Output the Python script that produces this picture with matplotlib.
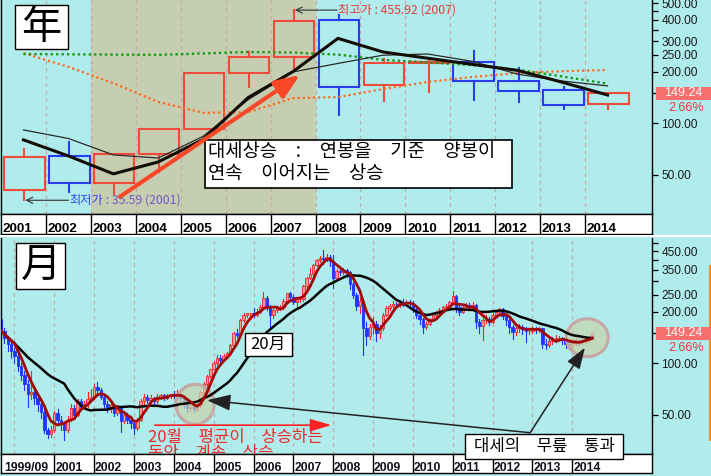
import numpy as np
import pandas as pd
import matplotlib
matplotlib.use("Agg")
import matplotlib.pyplot as plt
from matplotlib.patches import Rectangle, Ellipse, FancyArrowPatch
from matplotlib.lines import Line2D
from matplotlib.ticker import NullLocator, FixedLocator, FixedFormatter

plt.rcParams['font.family'] = ['Liberation Sans', 'DejaVu Sans']
KR = ['Noto Sans CJK KR', 'DejaVu Sans']
JP = ['Noto Sans CJK JP', 'DejaVu Sans']

# ---------------- data: yearly candles ----------------
years = ['2001', '2002', '2003', '2004', '2005', '2006', '2007',
         '2008', '2009', '2010', '2011', '2012', '2013', '2014']
y_open = [40.9, 64.8, 44.7, 66.3, 92.3, 197, 244, 399, 167, 223, 228, 175, 156, 130]
y_high = [70.6, 78.2, 66.5, 92.3, 197, 261, 455.92, 427, 236, 231, 265, 211, 162, 149.24]
y_low = [35.59, 40.0, 38.6, 52.3, 92.3, 163, 209, 111, 135, 151, 137, 133, 121, 121]
y_close = [63.9, 44.7, 66.5, 92.3, 197, 244, 394, 162, 224, 228, 175, 154, 128, 149.24]
# yearly moving averages
ma_thick = [80, 64.5, 50.7, 59.5, 80.5, 141, 200, 312, 260, 239, 220, 203, 173, 146]
ma_thin = [91.4, 81.5, 65.4, 62.7, 83.9, 137, 199, 223, 249, 253, 229, 193, 176, 165]
ma_green = [253, 252, 251, 250, 255, 260, 258, 251, 234, 226, 218, 205, 187, 170]
ma_orange = [256, 213, 171, 133, 115, 116, 140, 142, 158, 174, 186, 196, 201, 204]

# ---------------- data: monthly candles (1999/09 .. 2014/07) ----------------
m_first_open = 180.0
m_close = [
    155, 140, 130, 118,
    110, 96, 86, 76, 66, 68, 63, 58, 52, 41, 38.5, 40.9,
    51, 47, 44, 41, 47, 55, 50, 60, 56, 58, 62, 63.9,
    73, 70, 64, 58, 54, 57, 51, 55, 46, 50, 47, 44.7,
    42, 47, 60, 64, 61, 63, 60, 64, 65, 63, 65, 66.5,
    65, 66, 63, 59, 55, 56, 54, 57, 68, 76, 84, 92.3,
    100, 108, 105, 110, 114, 128, 150, 146, 178, 192, 196, 197,
    192, 200, 212, 240, 215, 190, 205, 210, 213, 232, 255, 244,
    228, 236, 236, 280, 315, 330, 375, 400, 412, 405, 415, 394,
    315, 345, 338, 350, 340, 290, 250, 216, 230, 160, 145, 162,
    170, 150, 160, 192, 210, 215, 222, 220, 225, 223, 228, 224,
    208, 190, 180, 162, 170, 180, 192, 198, 205, 212, 216, 228,
    245, 212, 200, 212, 218, 214, 218, 175, 165, 178, 182, 175,
    190, 200, 208, 188, 178, 162, 152, 160, 162, 158, 154, 155,
    160, 158, 160, 130, 128, 135, 138, 140, 140, 137, 130, 128,
    132, 137, 134, 137, 138, 141, 149.24]
m_high = [
    195, 160, 145, 134,
    122, 113, 100, 90, 80, 90, 72, 66, 60, 54, 42, 43,
    53, 54, 49, 45, 49, 58, 57, 62, 62, 60, 68, 70.6,
    76, 78.2, 72, 66, 60, 59, 58, 57, 56, 52, 51, 49,
    46, 48, 62, 66, 65, 65, 64, 66, 66.5, 66, 66.5, 66.5,
    69, 70, 67, 64, 60, 58, 57, 58, 69, 78, 86, 92.3,
    103, 112, 112, 113, 117, 130, 152, 158, 182, 197, 197, 197,
    210, 206, 218, 261, 245, 218, 208, 214, 218, 236, 258, 259,
    250, 240, 242, 284, 320, 360, 380, 406, 420, 455.92, 430, 425,
    427, 355, 352, 360, 355, 345, 296, 258, 240, 236, 175, 170,
    185, 176, 166, 197, 216, 222, 230, 228, 232, 236, 234, 233,
    231, 214, 196, 184, 175, 184, 196, 202, 210, 216, 222, 231,
    265, 250, 218, 218, 225, 224, 226, 222, 182, 184, 190, 186,
    195, 205, 211, 210, 192, 180, 166, 165, 170, 166, 162, 160,
    162, 162, 162, 161, 138, 140, 142, 146, 144, 143, 139, 134,
    136, 140, 139, 142, 143, 145, 151]
m_low = [
    150, 132, 118, 108,
    100, 90, 80, 70, 56, 62, 58, 53, 48, 39, 36.5, 37,
    40, 45, 41, 35.59, 40, 46, 48, 49, 54, 54, 56, 60,
    62, 66, 62, 55, 52, 52, 49, 50, 40.0, 45, 45, 42,
    38.6, 41, 46, 58, 59, 59, 58, 59, 62, 61, 62, 63,
    63, 63, 60, 55, 52.3, 53, 52.3, 53, 56, 66, 74, 82,
    92.3, 97, 101, 103, 108, 112, 126, 142, 144, 175, 186, 188,
    186, 188, 196, 208, 205, 163, 184, 198, 204, 208, 228, 238,
    222, 209, 226, 232, 272, 310, 322, 368, 390, 380, 395, 370,
    275, 305, 325, 330, 320, 270, 240, 205, 196, 111, 128, 138,
    148, 135, 140, 157, 188, 205, 210, 212, 214, 215, 218, 216,
    200, 184, 170, 151, 158, 166, 176, 188, 194, 200, 206, 212,
    224, 200, 192, 196, 206, 208, 210, 160, 150, 137, 172, 168,
    172, 186, 195, 180, 168, 150, 138, 146, 152, 148, 133, 148,
    150, 150, 152, 122, 121, 124, 130, 133, 134, 130, 123, 121,
    121, 127, 128, 130, 131, 133, 138]
m_start_year, m_start_month = 1999, 9
m_labels = ['1999/09', '2001', '2002', '2003', '2004', '2005', '2006', '2007',
            '2008', '2009', '2010', '2011', '2012', '2013', '2014']
m_grid_years = list(range(2000, 2015))
ma_short, ma_long = 5, 20

last_price = 149.24
last_change = '2.66%'

top_ticks = [50, 100, 150, 200, 250, 300, 350, 400, 450, 500]
top_ticklabels = ['50.00', '100.00', '', '200.00', '250.00', '300.00', '', '400.00', '', '500.00']
bot_ticks = [50, 100, 150, 200, 250, 300, 350, 400, 450, 500]
bot_ticklabels = ['50.00', '100.00', '', '200.00', '250.00', '', '350.00', '', '450.00', '']

# ---------------- styling ----------------
W, H = 711, 476
BG = '#B0ECEC'
SHADE = '#C6CEB2'
RED = '#F04A3A'
BLUE = '#2A3CF0'
GRID = '#C4AAAA'

fig = plt.figure(figsize=(W / 100, H / 100), dpi=100)
fig.patch.set_facecolor(BG)


def rect_px(x0, y0, x1, y1):
    return [x0 / W, 1 - y1 / H, (x1 - x0) / W, (y1 - y0) / H]


def fpt(x, y):
    return (x / W, 1 - y / H)


ax1 = fig.add_axes(rect_px(1, 0, 652.5, 214))
bd1 = fig.add_axes(rect_px(1, 214, 652.5, 234))
ax2 = fig.add_axes(rect_px(1, 237.5, 652.5, 454.3))
bd2 = fig.add_axes(rect_px(1, 454.3, 652.5, 473.3))

n_years = len(years)
ax1.set_xlim(0.0, 14.5)
bd1.set_xlim(0.0, 14.5)
n_m = len(m_close)
ax2.set_xlim(-0.05, 196.15)
bd2.set_xlim(-0.05, 196.15)

for ax, ylim, ticks, labels in [(ax1, (29.6, 522), top_ticks, top_ticklabels),
                                (ax2, (29.5, 540), bot_ticks, bot_ticklabels)]:
    ax.set_facecolor(BG)
    ax.set_yscale('log')
    ax.set_ylim(*ylim)
    ax.yaxis.tick_right()
    ax.yaxis.set_major_locator(FixedLocator(ticks))
    ax.yaxis.set_major_formatter(FixedFormatter(labels))
    ax.yaxis.set_minor_locator(NullLocator())
    ax.tick_params(axis='y', direction='out', length=4, width=0.9, color='black',
                   labelsize=8.6, labelcolor='#1A1A1A', pad=2.5)
    ax.set_xticks([])
    for s in ['left', 'right', 'bottom']:
        ax.spines[s].set_color('black')
        ax.spines[s].set_linewidth(1.0)
    ax.spines['top'].set_visible(False)

for bd in (bd1, bd2):
    bd.set_facecolor('white')
    bd.set_ylim(0, 1)
    bd.set_xticks([])
    bd.set_yticks([])
    for s in bd.spines.values():
        s.set_color('black')
        s.set_linewidth(1.0)

# ---------------- top panel: yearly ----------------
ax1.axvspan(2, 7, color=SHADE, zorder=0.5, lw=0)
for i in range(1, n_years):
    ax1.axvline(i, color=GRID, lw=0.9, ls=(0, (3, 3)), zorder=0.8)

xc = np.arange(n_years) + 0.52
for x, o, h, l, c in zip(xc, y_open, y_high, y_low, y_close):
    col = RED if c >= o else BLUE
    lo, hi = min(o, c), max(o, c)
    ax1.add_patch(Rectangle((x - 0.45, lo), 0.9, max(hi - lo, 0.3), fill=False,
                            ec=col, lw=1.5, zorder=3))
    if h > hi:
        ax1.plot([x, x], [hi, h], color=col, lw=1.5, zorder=3)
    if l < lo:
        ax1.plot([x, x], [l, lo], color=col, lw=1.5, zorder=3)

xm = np.arange(n_years) + 0.5
ax1.plot(xm, ma_orange, color='#FF6A1E', lw=1.6, ls=(0, (1, 1.3)), zorder=4)
ax1.plot(xm, ma_green, color='#169A16', lw=1.7, ls=(0, (1, 1.3)), zorder=4)
ax1.plot(xm, ma_thin, color='#2A2A2A', lw=0.9, zorder=4.2)
ax1.plot(xm, ma_thick, color='#140E06', lw=2.2, zorder=4.3)

for i, yl in enumerate(years):
    bd1.text(i + 0.04, 0.1, yl, fontsize=9.7, fontweight='bold', va='baseline',
             ha='left', color='black')
for i in range(1, n_years):
    bd1.axvline(i, color='black', lw=1)

# high / low notes
i_hi = int(np.argmax(y_high))
i_lo = int(np.argmin(y_low))
ax1.annotate('', xy=(xc[i_hi] + 0.02, y_high[i_hi]), xytext=(7.48, y_high[i_hi]),
             arrowprops=dict(arrowstyle='->,head_length=0.45,head_width=0.22',
                             color='#303030', lw=0.8, shrinkA=0, shrinkB=0), zorder=6)
ax1.text(7.51, y_high[i_hi], f'최고가 : {y_high[i_hi]:.2f} ({years[i_hi]})', color='#E8383A',
         fontsize=8.8, family=KR, va='center', ha='left', zorder=6)
ax1.annotate('', xy=(xc[i_lo] + 0.02, y_low[i_lo]), xytext=(1.5, y_low[i_lo]),
             arrowprops=dict(arrowstyle='->,head_length=0.45,head_width=0.22',
                             color='#303030', lw=0.8, shrinkA=0, shrinkB=0), zorder=6)
t_lo = ax1.text(1.52, y_low[i_lo], '최저가', color='#3344EE', fontsize=8.8, family=KR,
                va='center', ha='left', zorder=6)
ax1.annotate(f' : {y_low[i_lo]:.2f} ({years[i_lo]})', xy=(1, 0.5), xycoords=t_lo,
             va='center', ha='left', color='#7357C0', fontsize=8.8, family=KR, zorder=6)

# ---------------- bottom panel: monthly ----------------
def month_index(year, month):
    return (year - m_start_year) * 12 + (month - m_start_month)


for yv in m_grid_years:
    ax2.axvline(month_index(yv, 1), color=GRID, lw=0.9, ls=(0, (3, 3)), zorder=0.8)

m_open = [m_first_open] + m_close[:-1]
for i, (o, h, l, c) in enumerate(zip(m_open, m_high, m_low, m_close)):
    up = c >= o
    col = '#F02424' if up else '#2233FF'
    fc = '#F49A9A' if up else '#2233FF'
    lo, hi = min(o, c), max(o, c)
    ax2.plot([i, i], [min(l, lo), max(h, hi)], color=col, lw=0.8, zorder=2)
    ax2.add_patch(Rectangle((i - 0.36, lo), 0.72, max(hi - lo, hi * 0.006),
                            fc=fc, ec=col, lw=0.6, zorder=2.1))

s_close = pd.Series(m_close)
ma_s = s_close.rolling(ma_short, min_periods=1).mean()
ma_l = s_close.rolling(ma_long, min_periods=1).mean()
xi = np.arange(n_m)
ax2.plot(xi, ma_l, color='#050505', lw=1.8, zorder=4)
ax2.plot(xi, ma_s, color='#A00808', lw=2.0, zorder=4.2)

jan_idx = [month_index(int(t), 1) for t in m_labels[1:]]
bd2.text(0.9, 0.12, m_labels[0], fontsize=8.8, fontweight='bold', va='baseline', ha='left',
         color='#101020')
for t, xj in zip(m_labels[1:], jan_idx):
    bd2.text(xj + 0.25, 0.12, t, fontsize=8.8, fontweight='bold', va='baseline', ha='left',
             color='#101020')
    bd2.axvline(xj, color='black', lw=1)


def data_to_fig(ax, x, y):
    d = ax.transData.transform((x, y))
    return fig.transFigure.inverted().transform(d)


# circles
for (cx, cy, wpx, hpx) in [(58.4, 57.7, 38, 40), (176.5, 140.9, 42, 38)]:
    c = data_to_fig(ax2, cx, cy)
    e = Ellipse(c, wpx / W, hpx / H, transform=fig.transFigure,
                fc=(0.78, 0.83, 0.68, 0.72), ec=(0.78, 0.64, 0.64, 0.9), lw=2.3, zorder=3)
    ax2.add_artist(e)

# arrows in monthly panel
ax2.annotate('', xy=(99.5, 43.6), xytext=(46.3, 43.6),
             arrowprops=dict(arrowstyle='-|>,head_length=1.3,head_width=0.38',
                             color='#FF2020', lw=1.2, shrinkA=0, shrinkB=0), zorder=6)
ax2.annotate('', xy=(62.0, 60.9), xytext=(159.3, 39.4),
             arrowprops=dict(arrowstyle='-|>,head_length=1.45,head_width=0.5',
                             color='#222222', lw=1.1, shrinkA=0, shrinkB=0), zorder=6)
ax2.annotate('', xy=(175.8, 123.3), xytext=(159.3, 39.4),
             arrowprops=dict(arrowstyle='-|>,head_length=1.3,head_width=0.45',
                             color='#222222', lw=1.1, shrinkA=0, shrinkB=0), zorder=6)
ax2.text(44.2, 36.9, '20월\u3000평균이\u3000상승하는', color='#F02828', fontsize=12, family=KR,
         va='center', ha='left', zorder=6, clip_on=True)
ax2.text(44.2, 30.0, '동안\u3000계속\u3000상승', color='#F02828', fontsize=12, family=KR,
         va='center', ha='left', zorder=6, clip_on=True)

# ---------------- price tags ----------------
for ax in (ax1, ax2):
    d = ax.transData.transform((ax.get_xlim()[1], last_price))
    yc = H - d[1]
    fig.add_artist(Rectangle(fpt(656, yc + 6.7), 55 / W, 13.4 / H, transform=fig.transFigure,
                             fc='#F76E6E', ec='none', zorder=5))
    fig.text(683.5 / W, 1 - yc / H, f'{last_price:.2f}', color='white', ha='center',
             va='center', fontsize=9, zorder=6)
    fig.text(686 / W, 1 - (yc + 14.8) / H, last_change, color='#E8383A', ha='center',
             va='center', fontsize=9, zorder=6)

# ---------------- boxes & labels ----------------
def box(x0, y0, x1, y1, lw=1.0):
    fig.add_artist(Rectangle(fpt(x0, y1), (x1 - x0) / W, (y1 - y0) / H,
                             transform=fig.transFigure, fc='white', ec='black', lw=lw, zorder=7))


box(15, 5, 68, 49)
fig.text(41.5 / W, 1 - 27 / H, '年', fontsize=29, family=JP, ha='center', va='center', zorder=8)
box(16, 242.7, 65, 289.3)
fig.text(40.5 / W, 1 - 266 / H, '月', fontsize=29, family=JP, ha='center', va='center', zorder=8)

box(205, 140, 511.7, 188.3, lw=1.2)
fig.text(208 / W, 1 - 151.7 / H, '대세상승\u3000:\u3000연봉을\u3000기준\u3000양봉이', fontsize=13.5,
         family=KR, ha='left', va='center', zorder=8)
fig.text(208 / W, 1 - 173.8 / H, '연속\u3000이어지는\u3000상승', fontsize=13.5,
         family=KR, ha='left', va='center', zorder=8)

box(245, 332.7, 291.7, 356)
fig.text(268.3 / W, 1 - 344.5 / H, '20月', fontsize=12, family=KR, ha='center', va='center', zorder=8)

box(465, 434, 623, 458.7)
fig.text(544 / W, 1 - 446.5 / H, '대세의\u3000무릎\u3000통과', fontsize=12, family=KR,
         ha='center', va='center', zorder=8)

# big red trend arrow (top panel)
fig.add_artist(FancyArrowPatch(posA=fpt(120, 196.7), posB=fpt(300, 75), transform=fig.transFigure,
                               arrowstyle='-|>,head_length=1.5,head_width=0.6', mutation_scale=10,
                               lw=3, color='#F84828', shrinkA=0, shrinkB=0, zorder=9))

# separators / misc
fig.add_artist(Line2D([0, 1], [1 - 235.7 / H] * 2, color='white', lw=1.5, transform=fig.transFigure))
fig.add_artist(Line2D([710 / W] * 2, [1 - 266 / H, 1 - 440 / H], color='#FF8C1A', lw=1.5,
                      transform=fig.transFigure))

fig.savefig('out.png', dpi=100, facecolor=BG)
